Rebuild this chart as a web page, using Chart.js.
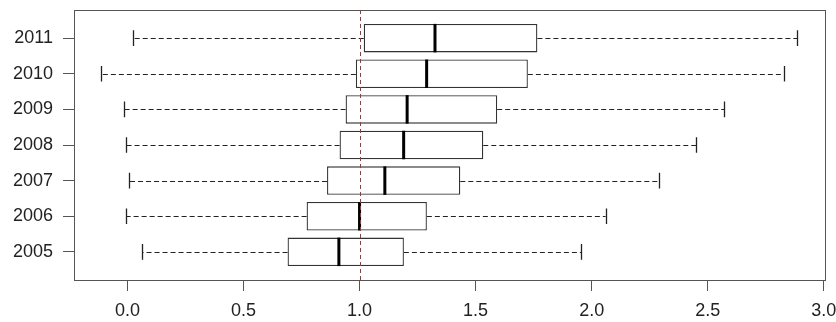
<!DOCTYPE html>
<html>
<head>
<meta charset="utf-8">
<script src="https://cdn.jsdelivr.net/npm/chart.js@4"></script>
<style>
  html, body { margin: 0; padding: 0; background: #fff; }
  #wrap { width: 836px; height: 322px; }
</style>
</head>
<body>
<div id="wrap"><canvas id="boxChart"></canvas></div>
<script>
// years, bottom to top (position 1 = 2005)
const years = ['2005', '2006', '2007', '2008', '2009', '2010', '2011'];
const whiskerLow  = [0.063, -0.004, 0.009, -0.004, -0.015, -0.114, 0.023];
const q1          = [0.690, 0.772, 0.860, 0.914, 0.940, 0.984, 1.018];
const medians     = [0.911, 1.000, 1.109, 1.190, 1.205, 1.289, 1.325];
const q3          = [1.191, 1.290, 1.434, 1.533, 1.593, 1.725, 1.766];
const whiskerHigh = [1.954, 2.060, 2.289, 2.451, 2.570, 2.827, 2.886];
const xTicks = [0, 0.5, 1, 1.5, 2, 2.5, 3];
const refValue = 1.0;

const positions = years.map((y, i) => i + 1);
const boxData = positions.map((p, i) => ({ y: p, x: [q1[i], q3[i]] }));

// draws whiskers, staples, medians, frame and the reference line using the scales
const boxExtras = {
    id: 'boxExtras',
    afterDatasetsDraw(chart) {
        const ctx = chart.ctx;
        const xs = chart.scales.x, ys = chart.scales.y;
        const area = chart.chartArea;
        ctx.save();
        positions.forEach((p, i) => {
            const yc = Math.round(ys.getPixelForValue(p)) + 0.5;
            const sTop = ys.getPixelForValue(p + 0.22), sBot = ys.getPixelForValue(p - 0.22);
            const mTop = ys.getPixelForValue(p + 0.4), mBot = ys.getPixelForValue(p - 0.4);
            // whiskers
            ctx.strokeStyle = '#222';
            ctx.lineWidth = 1;
            ctx.setLineDash([5, 3]);
            ctx.beginPath();
            ctx.moveTo(xs.getPixelForValue(q1[i]), yc);
            ctx.lineTo(xs.getPixelForValue(whiskerLow[i]), yc);
            ctx.moveTo(xs.getPixelForValue(q3[i]), yc);
            ctx.lineTo(xs.getPixelForValue(whiskerHigh[i]), yc);
            ctx.stroke();
            // staples
            ctx.setLineDash([]);
            ctx.lineWidth = 1.3;
            ctx.beginPath();
            [whiskerLow[i], whiskerHigh[i]].forEach(v => {
                const px = Math.round(xs.getPixelForValue(v)) + 0.5;
                ctx.moveTo(px, sTop);
                ctx.lineTo(px, sBot);
            });
            ctx.stroke();
            // median
            ctx.strokeStyle = '#000';
            ctx.lineWidth = 3;
            ctx.beginPath();
            const mx = xs.getPixelForValue(medians[i]);
            ctx.moveTo(mx, mTop);
            ctx.lineTo(mx, mBot);
            ctx.stroke();
        });
        // frame
        ctx.strokeStyle = '#555';
        ctx.lineWidth = 1;
        ctx.strokeRect(Math.round(area.left) + 0.5, Math.round(area.top) + 0.5,
            Math.round(area.right - area.left), Math.round(area.bottom - area.top));
        // reference line
        const rx = Math.round(xs.getPixelForValue(refValue)) + 0.5;
        ctx.strokeStyle = '#b03030';
        ctx.lineWidth = 1;
        ctx.setLineDash([4, 3]);
        ctx.beginPath();
        ctx.moveTo(rx, area.top);
        ctx.lineTo(rx, area.bottom);
        ctx.stroke();
        ctx.restore();
    }
};

new Chart(document.getElementById('boxChart'), {
    type: 'bar',
    data: {
        datasets: [{
            data: boxData,
            backgroundColor: '#ffffff',
            borderColor: '#333',
            borderWidth: 1.3,
            borderSkipped: false,
            barPercentage: 0.8,
            categoryPercentage: 1
        }]
    },
    options: {
        indexAxis: 'y',
        responsive: true,
        maintainAspectRatio: false,
        animation: false,
        layout: { padding: { top: 10, right: 11, left: 0, bottom: 0 } },
        plugins: { legend: { display: false }, tooltip: { enabled: false } },
        scales: {
            x: {
                type: 'linear',
                min: -0.23,
                max: 3.005,
                offset: false,
                afterBuildTicks: scale => { scale.ticks = xTicks.map(v => ({ value: v })); },
                afterFit: scale => { scale.height = 42; scale.paddingLeft = 0; scale.paddingRight = 0; },
                grid: { drawOnChartArea: false, offset: false, color: '#555', tickLength: 11 },
                border: { display: false },
                ticks: {
                    padding: 9,
                    color: '#222',
                    font: { family: 'Liberation Sans', size: 18 },
                    callback: v => Number(v).toFixed(1)
                }
            },
            y: {
                type: 'linear',
                min: 0.21,
                max: 7.79,
                offset: false,
                afterBuildTicks: scale => { scale.ticks = positions.map(v => ({ value: v })); },
                afterFit: scale => { scale.width = 74; scale.paddingTop = 0; scale.paddingBottom = 0; },
                grid: { drawOnChartArea: false, offset: false, color: '#555', tickLength: 11 },
                border: { display: false },
                ticks: {
                    padding: 10,
                    color: '#222',
                    font: { family: 'Liberation Sans', size: 18 },
                    callback: v => years[v - 1]
                }
            }
        }
    },
    plugins: [boxExtras]
});
</script>
</body>
</html>
